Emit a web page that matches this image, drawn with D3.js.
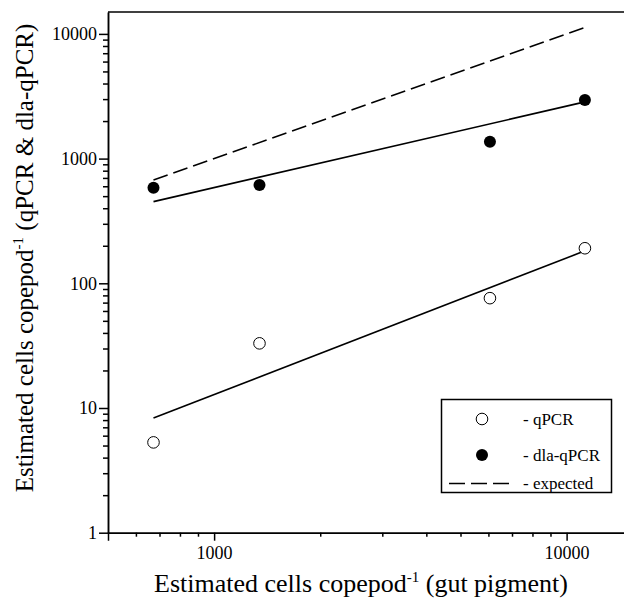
<!DOCTYPE html>
<html lang="en">
<head>
    <title>qPCR vs gut pigment</title>
    <script src="https://d3js.org/d3.v7.min.js"></script>
    <style>
    body { margin: 0; background: #fff; }
    svg { font-family: "Liberation Serif", "Times New Roman", serif; }
    .axis path, .axis line { stroke: #000; stroke-width: 1.5px; }
    </style>
</head>
<body>
<script>

// estimated cells per copepod from gut pigment (x)
var pigment = [673, 1345, 6060, 11270];
// estimated cells from qPCR and dla-qPCR (y)
var qpcr = [5.3, 33, 76, 191];
var dlaQpcr = [584, 614, 1366, 2950];

var fitX = [673, 11270];
var qpcrFit = [8.3, 182];
var dlaFit = [452, 2850];
var expected = [673, 11270];

var yTicks = [1, 10, 100, 1000, 10000];
var xTicks = [1000, 10000];

var width = 624,
    height = 601;

var svg = d3.select("body").append("svg")
    .attr("width", width)
    .attr("height", height);

var x = d3.scaleLog()
    .domain([500, 20000])
    .range([108, 108 + 352.5 * Math.log10(40)]);

var y = d3.scaleLog()
    .domain([1, 15000])
    .range([532.7, 532.7 - 124.7 * Math.log10(15000)]);

// minor ticks: 2..9 in each decade
var xMinor = [], yMinor = [];
[100, 1000, 10000].forEach(function(d) {
    for (var i = 2; i < 10; i++) {
        var v = d * i;
        if (v > 500 && v < 20000 && xTicks.indexOf(v) < 0) xMinor.push(v);
    }
});
[1, 10, 100, 1000].forEach(function(d) {
    for (var i = 2; i < 10; i++) yMinor.push(d * i);
});

// top frame line
svg.append("line")
    .attr("x1", x.range()[0]).attr("x2", width)
    .attr("y1", y.range()[1]).attr("y2", y.range()[1])
    .attr("stroke", "#000").attr("stroke-width", 1.5);

function styleAxis(g) {
    g.attr("font-family", null).attr("font-size", null);
    g.selectAll("text")
        .attr("fill", "#000")
        .style("font-family", "'Liberation Serif', serif")
        .style("font-size", "18px");
}

// x axis
svg.append("g").attr("class", "axis")
    .attr("transform", "translate(0," + y.range()[0] + ")")
    .call(d3.axisBottom(x).tickValues(xTicks).tickFormat(d3.format("d"))
        .tickSize(8).tickSizeOuter(8).tickPadding(6))
    .call(styleAxis);
svg.append("g").attr("class", "axis")
    .attr("transform", "translate(0," + y.range()[0] + ")")
    .call(d3.axisBottom(x).tickValues(xMinor).tickFormat("").tickSize(4).tickSizeOuter(0));

// y axis
svg.append("g").attr("class", "axis")
    .attr("transform", "translate(" + x.range()[0] + ",0)")
    .call(d3.axisLeft(y).tickValues(yTicks).tickFormat(d3.format("d"))
        .tickSize(9).tickSizeOuter(0).tickPadding(2))
    .call(styleAxis);
svg.append("g").attr("class", "axis")
    .attr("transform", "translate(" + x.range()[0] + ",0)")
    .call(d3.axisLeft(y).tickValues(yMinor).tickFormat("").tickSize(5).tickSizeOuter(0));

// lines
var line = d3.line()
    .x(function(d) { return x(d[0]); })
    .y(function(d) { return y(d[1]); });

svg.append("path")
    .attr("d", line(d3.zip(fitX, qpcrFit)))
    .attr("fill", "none").attr("stroke", "#000").attr("stroke-width", 1.6);
svg.append("path")
    .attr("d", line(d3.zip(fitX, dlaFit)))
    .attr("fill", "none").attr("stroke", "#000").attr("stroke-width", 1.6);
svg.append("path")
    .attr("d", line(d3.zip(fitX, expected)))
    .attr("fill", "none").attr("stroke", "#000").attr("stroke-width", 1.6)
    .attr("stroke-dasharray", "15,6");

// points
svg.selectAll(".open")
    .data(d3.zip(pigment, qpcr))
    .enter().append("circle")
    .attr("class", "open")
    .attr("cx", function(d) { return x(d[0]); })
    .attr("cy", function(d) { return y(d[1]); })
    .attr("r", 5.8)
    .attr("fill", "#fff").attr("stroke", "#000").attr("stroke-width", 1);

svg.selectAll(".filled")
    .data(d3.zip(pigment, dlaQpcr))
    .enter().append("circle")
    .attr("class", "filled")
    .attr("cx", function(d) { return x(d[0]); })
    .attr("cy", function(d) { return y(d[1]); })
    .attr("r", 6)
    .attr("fill", "#000");

// legend
var leg = svg.append("g");
leg.append("rect")
    .attr("x", 441.5).attr("y", 399.5).attr("width", 170).attr("height", 93)
    .attr("fill", "#fff").attr("stroke", "#000").attr("stroke-width", 1.5);
leg.append("circle").attr("cx", 482).attr("cy", 419).attr("r", 5.8)
    .attr("fill", "#fff").attr("stroke", "#000").attr("stroke-width", 1);
leg.append("circle").attr("cx", 482).attr("cy", 455).attr("r", 6).attr("fill", "#000");
leg.append("line").attr("x1", 449).attr("x2", 510).attr("y1", 483.5).attr("y2", 483.5)
    .attr("stroke", "#000").attr("stroke-width", 1.6).attr("stroke-dasharray", "16,6");
var legLabels = ["- qPCR", "- dla-qPCR", "- expected"];
leg.selectAll(".lt")
    .data(legLabels)
    .enter().append("text")
    .attr("x", 523)
    .attr("y", function(d, i) { return [425, 461, 489][i]; })
    .attr("font-size", "17px")
    .text(function(d) { return d; });

// axis titles
var xt = svg.append("text")
    .attr("x", 361).attr("y", 592)
    .attr("text-anchor", "middle")
    .attr("font-size", "26px");
xt.append("tspan").text("Estimated cells copepod");
xt.append("tspan").attr("font-size", "15px").attr("dy", -10).text("-1");
xt.append("tspan").attr("dy", 10).text(" (gut pigment)");

var yt = svg.append("text")
    .attr("transform", "translate(33,258) rotate(-90)")
    .attr("text-anchor", "middle")
    .attr("font-size", "25px");
yt.append("tspan").text("Estimated cells copepod");
yt.append("tspan").attr("font-size", "15px").attr("dy", -10).text("-1");
yt.append("tspan").attr("dy", 10).text(" (qPCR & dla-qPCR)");

</script>
</body>
</html>
